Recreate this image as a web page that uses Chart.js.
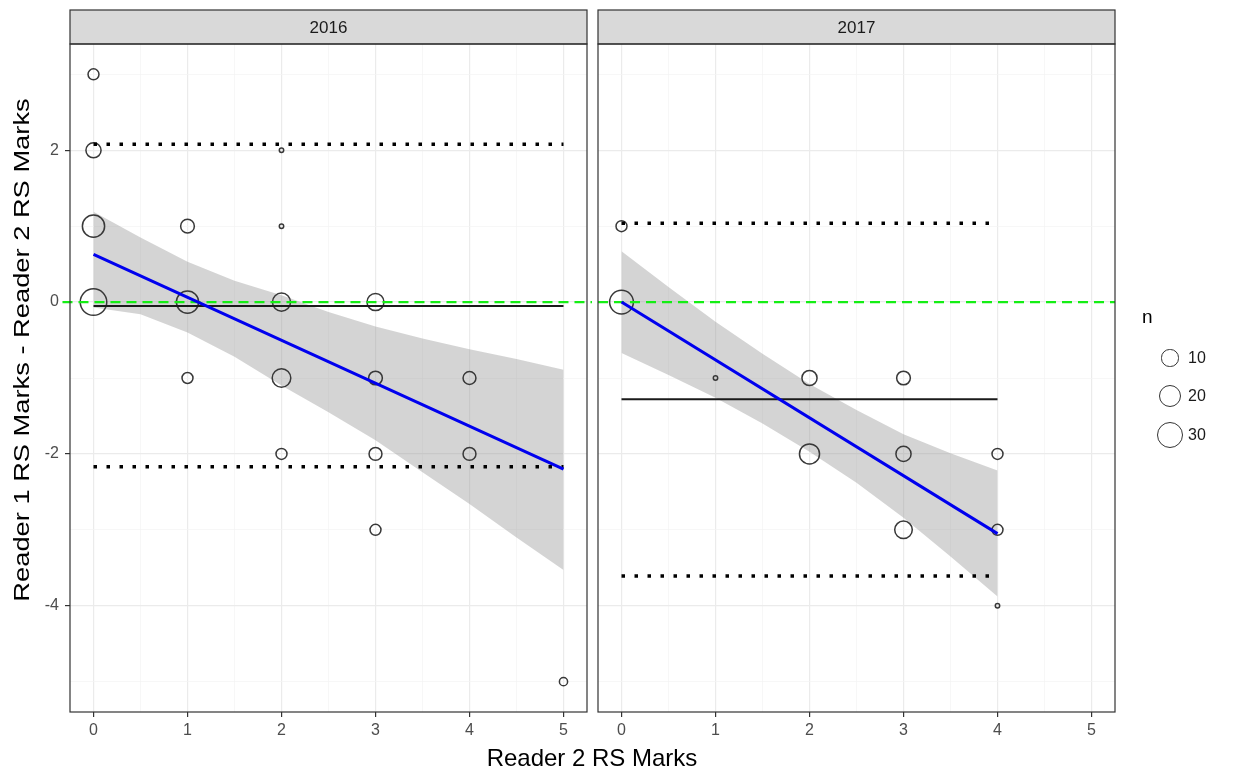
<!DOCTYPE html>
<html>
<head>
<meta charset="utf-8">
<script src="https://cdn.jsdelivr.net/npm/chart.js@4.4.0/dist/chart.umd.min.js"></script>
<style>
    body { margin: 0; background: #fff; font-family: "Liberation Sans", Arial, sans-serif; }
    #page { position: relative; width: 1238px; height: 773px; overflow: hidden; }
    .panel { position: absolute; top: 0; }
    .panel canvas { display: block; }
    #xTitle { position: absolute; left: 392px; width: 400px; top: 744px; text-align: center; font-size: 24px; line-height: 28px; color: #000; }
    #yTitle { position: absolute; left: -278px; width: 600px; top: 337px; height: 26px; line-height: 26px; text-align: center; font-size: 22px; color: #000; transform: rotate(-90deg) scaleX(1.24); }
    #legendTitle { position: absolute; left: 1142px; top: 306px; font-size: 19px; color: #000; }
    .key { position: absolute; border: 1.3px solid #333; border-radius: 50%; box-sizing: border-box; }
    .keyLabel { position: absolute; left: 1188px; font-size: 16px; line-height: 18px; color: #1a1a1a; }
</style>
</head>
<body>
<div id="page">
    <div class="panel" style="left:0"><canvas id="chart2016" width="592" height="773"></canvas></div>
    <div class="panel" style="left:592px"><canvas id="chart2017" width="646" height="773"></canvas></div>
    <div id="xTitle">Reader 2 RS Marks</div>
    <div id="yTitle">Reader 1 RS Marks - Reader 2 RS Marks</div>
    <div id="legendTitle">n</div>
    <div id="legend"></div>
</div>
<script>
// axis ticks (major get labels, minor only grid lines)
const xGrid = [0, 0.5, 1, 1.5, 2, 2.5, 3, 3.5, 4, 4.5, 5];
const xLabels = [0, 1, 2, 3, 4, 5];
const yGrid = [-5, -4, -3, -2, -1, 0, 1, 2, 3];
const yLabels = [-4, -2, 0, 2];

// 2016 points: x, difference, count
const x2016 = [0, 0, 0, 0, 1, 1, 1, 2, 2, 2, 2, 2, 3, 3, 3, 3, 4, 4, 5];
const y2016 = [3, 2, 1, 0, 1, 0, -1, 2, 1, 0, -1, -2, 0, -1, -2, -3, -1, -2, -5];
const n2016 = [4, 9, 23, 35, 7, 23, 4, 1, 1, 14, 15, 4, 12, 7, 6, 4, 6, 6, 2];

// 2017 points
const x2017 = [0, 0, 1, 2, 2, 3, 3, 3, 4, 4, 4];
const y2017 = [1, 0, -1, -1, -2, -1, -2, -3, -2, -3, -4];
const n2017 = [4, 27, 1, 9, 18, 7, 9, 13, 4, 4, 1];

// mean and limits of agreement
const mean2016 = -0.05, loa2016 = [2.08, -2.17], end2016 = 5;
const mean2017 = -1.28, loa2017 = [1.04, -3.61], end2017 = 4;

// fitted line ends
const fitX2016 = [0, 5], fitY2016 = [0.63, -2.20];
const fitX2017 = [0, 4], fitY2017 = [0.0, -3.05];

// confidence band
const bandX2016 = [0, 0.5, 1, 1.5, 2, 2.5, 3, 3.5, 4, 4.5, 5];
const bandHi2016 = [1.19, 0.85, 0.53, 0.28, 0.09, -0.13, -0.32, -0.48, -0.62, -0.75, -0.89];
const bandLo2016 = [-0.07, -0.16, -0.40, -0.72, -1.10, -1.45, -1.82, -2.24, -2.66, -3.10, -3.53];
const bandX2017 = [0, 0.5, 1, 1.5, 2, 2.5, 3, 3.5, 4];
const bandHi2017 = [0.67, 0.20, -0.26, -0.68, -1.08, -1.42, -1.74, -1.99, -2.22];
const bandLo2017 = [-0.67, -0.96, -1.26, -1.60, -1.97, -2.38, -2.84, -3.35, -3.88];

// zero reference line extents (2016 one runs across the gap)
const zeroX2016 = [-0.33, 5.37];
const zeroX2017 = [-0.25, 5.25];

const legendN = [10, 20, 30];

Chart.defaults.font.family = '"Liberation Sans", Arial, sans-serif';

// size scale: radius grows with sqrt of count
function sizeOf(n) {
    return 2.5 + 1.9 * Math.sqrt(n - 1) - 0.3;
}

function pairs(xs, ys) {
    return xs.map((v, i) => ({ x: v, y: ys[i] }));
}

// panel border + facet strip
const panelDecor = {
    id: 'panelDecor',
    afterDraw(chart, args, opts) {
        const { ctx, chartArea } = chart;
        const { left, top, right, bottom } = chartArea;
        ctx.save();
        ctx.fillStyle = '#d9d9d9';
        ctx.fillRect(left, 10, right - left, top - 10);
        ctx.strokeStyle = '#333';
        ctx.lineWidth = 1.2;
        ctx.strokeRect(left, 10, right - left, top - 10);
        ctx.strokeRect(left, top, right - left, bottom - top);
        ctx.fillStyle = '#1a1a1a';
        ctx.font = '17px "Liberation Sans", Arial, sans-serif';
        ctx.textAlign = 'center';
        ctx.textBaseline = 'middle';
        ctx.fillText(opts.label, (left + right) / 2, (10 + top) / 2 + 1);
        ctx.restore();
    }
};

function buildPanel(canvasId, p) {
    const datasets = [
        {
            type: 'line', data: pairs(p.bandX, p.bandHi), showLine: true,
            borderWidth: 0, pointRadius: 0, fill: '+1',
            backgroundColor: 'rgba(153,153,153,0.42)', order: 7
        },
        {
            type: 'line', data: pairs(p.bandX, p.bandLo), showLine: true,
            borderWidth: 0, pointRadius: 0, fill: false, order: 7
        },
        {
            type: 'scatter', data: pairs(p.x, p.y),
            pointRadius: p.n.map(sizeOf), pointHoverRadius: p.n.map(sizeOf),
            pointStyle: 'circle', backgroundColor: 'rgba(0,0,0,0)',
            borderColor: '#383838', borderWidth: 1.5, order: 6
        },
        {
            type: 'line', data: pairs([0, p.end], [p.loa[0], p.loa[0]]), showLine: true,
            borderColor: '#000', borderWidth: 3.5, borderDash: [3.5, 9.5], borderCapStyle: 'butt',
            pointRadius: 0, order: 5
        },
        {
            type: 'line', data: pairs([0, p.end], [p.loa[1], p.loa[1]]), showLine: true,
            borderColor: '#000', borderWidth: 3.5, borderDash: [3.5, 9.5], borderCapStyle: 'butt',
            pointRadius: 0, order: 5
        },
        {
            type: 'line', data: pairs([0, p.end], [p.mean, p.mean]), showLine: true,
            borderColor: '#1a1a1a', borderWidth: 2, pointRadius: 0, order: 4
        },
        {
            type: 'line', data: pairs(p.zeroX, [0, 0]), showLine: true, clip: false,
            borderColor: '#14ee14', borderWidth: 2.2, borderDash: [10, 6],
            pointRadius: 0, order: 3
        },
        {
            type: 'line', data: pairs(p.fitX, p.fitY), showLine: true,
            borderColor: '#0000ee', borderWidth: 3, pointRadius: 0, order: 1
        }
    ];

    const isMajorX = v => xLabels.includes(v);
    const isMajorY = v => yLabels.includes(v);

    return new Chart(document.getElementById(canvasId), {
        type: 'scatter',
        data: { datasets: datasets },
        plugins: [panelDecor],
        options: {
            responsive: false,
            animation: false,
            events: [],
            layout: {
                autoPadding: false,
                padding: { top: 44, left: 0, bottom: 0, right: p.padRight }
            },
            plugins: {
                legend: { display: false },
                tooltip: { enabled: false },
                panelDecor: { label: p.label }
            },
            scales: {
                x: {
                    type: 'linear', min: -0.25, max: 5.25,
                    afterBuildTicks: s => { s.ticks = xGrid.map(v => ({ value: v })); },
                    afterFit: s => { s.height = 61; s.paddingLeft = 0; s.paddingRight = 0; },
                    border: { display: false },
                    grid: {
                        color: c => isMajorX(c.tick.value) ? '#ebebeb' : '#f3f3f3',
                        lineWidth: c => isMajorX(c.tick.value) ? 1.2 : 0.7,
                        tickColor: c => isMajorX(c.tick.value) ? '#333' : 'rgba(0,0,0,0)',
                        tickLength: 5
                    },
                    ticks: {
                        autoSkip: false, maxRotation: 0, padding: 4,
                        color: '#4d4d4d', font: { size: 16 },
                        callback: v => isMajorX(v) ? String(v) : ''
                    }
                },
                y: {
                    type: 'linear', min: -5.4, max: 3.4,
                    afterBuildTicks: s => { s.ticks = yGrid.map(v => ({ value: v })); },
                    afterFit: s => { s.width = p.yWidth; s.paddingTop = 0; s.paddingBottom = 0; },
                    border: { display: false },
                    grid: {
                        color: c => isMajorY(c.tick.value) ? '#ebebeb' : '#f3f3f3',
                        lineWidth: c => isMajorY(c.tick.value) ? 1.2 : 0.7,
                        tickColor: c => (p.showY && isMajorY(c.tick.value)) ? '#333' : 'rgba(0,0,0,0)',
                        tickLength: 5
                    },
                    ticks: {
                        display: p.showY, autoSkip: false, padding: 6,
                        color: '#4d4d4d', font: { size: 16 },
                        callback: v => isMajorY(v) ? String(v) : ''
                    }
                }
            }
        }
    });
}

document.addEventListener('DOMContentLoaded', () => {
    buildPanel('chart2016', {
        label: '2016', x: x2016, y: y2016, n: n2016,
        mean: mean2016, loa: loa2016, end: end2016,
        fitX: fitX2016, fitY: fitY2016,
        bandX: bandX2016, bandHi: bandHi2016, bandLo: bandLo2016,
        zeroX: zeroX2016, yWidth: 70, showY: true, padRight: 5
    });
    buildPanel('chart2017', {
        label: '2017', x: x2017, y: y2017, n: n2017,
        mean: mean2017, loa: loa2017, end: end2017,
        fitX: fitX2017, fitY: fitY2017,
        bandX: bandX2017, bandHi: bandHi2017, bandLo: bandLo2017,
        zeroX: zeroX2017, yWidth: 6, showY: false, padRight: 123
    });

    // size legend (same radius function as the points)
    const legend = document.getElementById('legend');
    const keyY = [358, 396, 435];
    legendN.forEach((n, i) => {
        const r = sizeOf(n) + 0.7;
        const key = document.createElement('div');
        key.className = 'key';
        key.style.left = (1170 - r) + 'px';
        key.style.top = (keyY[i] - r) + 'px';
        key.style.width = (2 * r) + 'px';
        key.style.height = (2 * r) + 'px';
        legend.appendChild(key);

        const label = document.createElement('div');
        label.className = 'keyLabel';
        label.style.top = (keyY[i] - 9) + 'px';
        label.textContent = n;
        legend.appendChild(label);
    });
});
</script>
</body>
</html>
